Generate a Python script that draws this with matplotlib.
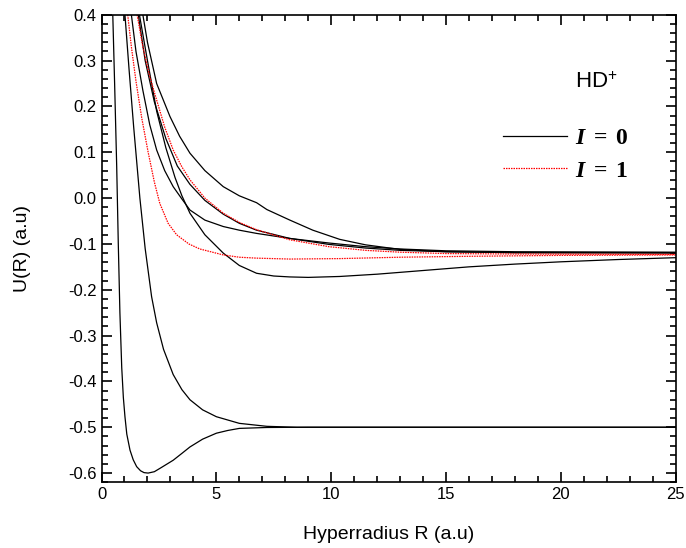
import matplotlib
matplotlib.use("Agg")
import matplotlib.pyplot as plt
from matplotlib.ticker import MultipleLocator

plt.rcParams['font.family'] = ['Liberation Sans', 'DejaVu Sans']
plt.rcParams['axes.unicode_minus'] = False
plt.rcParams['mathtext.fontset'] = 'custom'
plt.rcParams['mathtext.it'] = 'Liberation Serif:italic:bold'
plt.rcParams['mathtext.rm'] = 'Liberation Serif:bold'
plt.rcParams['mathtext.bf'] = 'Liberation Serif:bold'
plt.rcParams['mathtext.sf'] = 'Liberation Sans'

# ground channel, goes to -0.5 with a well
r_g = [0.49, 0.57, 0.66, 0.73, 0.80, 0.88, 0.95, 1.02, 1.1, 1.24, 1.38, 1.53, 1.7, 1.85,
       2.03, 2.3, 2.6, 3.12, 3.5, 3.85, 4.4, 5.0, 5.5, 6.0, 7.2, 9.0, 25]
u_g = [0.40, 0.25, 0.07, -0.10, -0.25, -0.37, -0.435, -0.477, -0.515, -0.55, -0.571,
       -0.586, -0.595, -0.599, -0.600, -0.597, -0.588, -0.572, -0.557, -0.543, -0.526,
       -0.513, -0.507, -0.5025, -0.5005, -0.5, -0.5]

# repulsive channel to -0.5
r_r = [1.02, 1.2, 1.4, 1.67, 1.9, 2.18, 2.4, 2.7, 3.12, 3.5, 3.85, 4.4, 5.0, 6.0, 7.2, 8.5, 25]
u_r = [0.40, 0.28, 0.155, 0.0, -0.11, -0.215, -0.272, -0.33, -0.385, -0.418, -0.44,
       -0.462, -0.477, -0.4915, -0.498, -0.5, -0.5]

# upper black channels (I = 0)
r_a = [1.8, 2.0, 2.4, 2.98, 3.4, 3.85, 4.5, 5.3, 6.0, 6.5, 6.75, 7.2, 8.2, 9.2, 10.37,
       11.5, 13, 15, 18, 21, 25]
u_a = [0.40, 0.34, 0.25, 0.178, 0.135, 0.098, 0.06, 0.025, 0.005, -0.005, -0.010, -0.025,
       -0.048, -0.070, -0.09, -0.102, -0.112, -0.117, -0.119, -0.119, -0.119]

r_d = [1.65, 2.0, 2.4, 2.8, 3.2, 3.5, 3.85, 4.5, 5.3, 6.0, 6.75, 7.5, 8.2, 9.0, 10.37,
       12, 14, 16, 18, 20, 22.5, 25]
u_d = [0.40, 0.30, 0.19, 0.11, 0.045, 0.005, -0.033, -0.08, -0.12, -0.147, -0.164, -0.170,
       -0.172, -0.173, -0.171, -0.166, -0.158, -0.150, -0.144, -0.139, -0.134, -0.130]

r_e = [1.3, 1.5, 1.8, 2.1, 2.4, 2.75, 3.12, 3.5, 3.85, 4.5, 5.3, 6.0, 6.75, 8.2, 9.9,
       11.5, 13, 15, 18, 25]
u_e = [0.40, 0.32, 0.235, 0.16, 0.105, 0.06, 0.025, -0.002, -0.026, -0.048, -0.062, -0.07,
       -0.077, -0.088, -0.098, -0.106, -0.111, -0.115, -0.117, -0.118]

r_f = [1.6, 1.9, 2.3, 2.8, 3.3, 3.85, 4.5, 5.3, 6.0, 6.75, 8.2, 9.9, 11.5, 13, 15, 18, 25]
u_f = [0.40, 0.30, 0.21, 0.13, 0.07, 0.03, -0.005, -0.035, -0.055, -0.07, -0.088, -0.101,
       -0.109, -0.114, -0.117, -0.119, -0.12]

# red channels (I = 1)
r_b = [1.55, 1.8, 2.1, 2.4, 2.75, 3.12, 3.5, 3.85, 4.5, 5.3, 6.0, 6.75, 8.2, 9.9, 11.5,
       13, 15, 18, 25]
u_b = [0.40, 0.33, 0.265, 0.214, 0.155, 0.105, 0.068, 0.04, 0.0, -0.033, -0.053, -0.069,
       -0.091, -0.106, -0.114, -0.118, -0.121, -0.122, -0.123]

r_c = [1.14, 1.3, 1.5, 1.75, 2.03, 2.3, 2.54, 2.9, 3.27, 3.8, 4.28, 5.3, 6.0, 6.75, 8.2,
       10.37, 13, 16, 20, 25]
u_c = [0.40, 0.33, 0.255, 0.175, 0.10, 0.035, -0.012, -0.055, -0.08, -0.10, -0.111,
       -0.124, -0.129, -0.131, -0.133, -0.132, -0.129, -0.127, -0.125, -0.124]

fig = plt.figure(figsize=(6.86, 5.48), dpi=100)
ax = fig.add_axes([0.148, 0.120, 0.837, 0.853])

lw = 0.9
ax.plot(r_g, u_g, color='black', lw=lw, label=r'$I\;=\;0$')
for rr, uu in [(r_r, u_r), (r_a, u_a), (r_d, u_d), (r_e, u_e), (r_f, u_f)]:
    ax.plot(rr, uu, color='black', lw=lw)
ax.plot(r_b, u_b, color='red', lw=lw, ls=(0, (1.2, 0.8)), label=r'$I\;=\;1$')
ax.plot(r_c, u_c, color='red', lw=lw, ls=(0, (1.2, 0.8)))

ax.set_xlim(0, 25)
ax.set_ylim(-0.62, 0.4)
ax.xaxis.set_major_locator(MultipleLocator(5))
ax.xaxis.set_minor_locator(MultipleLocator(1))
ax.yaxis.set_major_locator(MultipleLocator(0.1))
ax.yaxis.set_minor_locator(MultipleLocator(0.02))
ax.tick_params(which='both', direction='in', top=True, right=True, width=1.2, labelsize=12)
ax.tick_params(which='major', length=7)
ax.tick_params(which='minor', length=4)
for s in ax.spines.values():
    s.set_linewidth(1.2)

ax.set_xlabel('Hyperradius R (a.u)', fontsize=14, labelpad=17)
ax.set_ylabel('U(R) (a.u)', fontsize=14, labelpad=27)

ax.text(20.6, 0.24, r'HD$^{\mathsf{+}}$', fontsize=16)
ax.legend(loc='upper left', bbox_to_anchor=(0.70, 0.76), frameon=False, borderpad=0,
          borderaxespad=0, prop={'size': 17}, handlelength=2.7, handletextpad=0.35,
          labelspacing=0.45)

fig.savefig('out.png', dpi=100)
